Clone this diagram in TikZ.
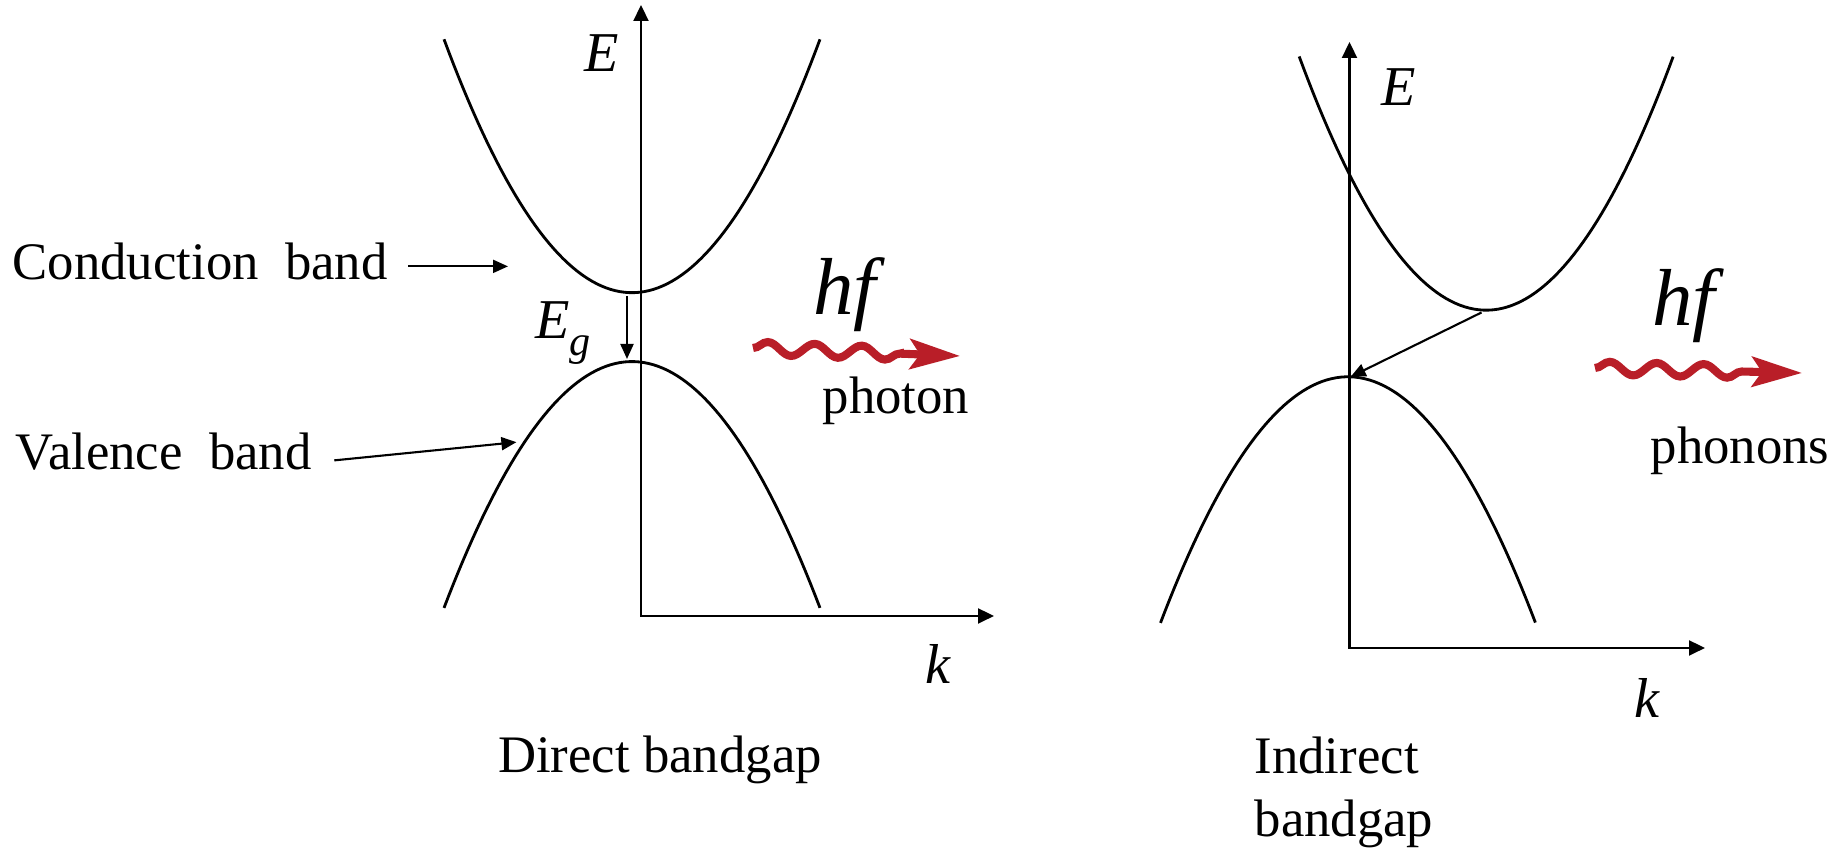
\documentclass[tikz,border=0pt]{standalone}
\usepackage{fontspec}
\setmainfont{Liberation Serif}
\usetikzlibrary{arrows.meta,decorations.pathmorphing}
\definecolor{wavered}{RGB}{185,30,40}
\begin{document}
\begin{tikzpicture}[
  band/.style={line width=0.8pt},
  axes/.style={line width=0.6pt, {Triangle[length=0.16cm,width=0.15cm]}-{Triangle[length=0.16cm,width=0.15cm]}},
  pointer/.style={line width=0.6pt, -{Triangle[length=0.15cm,width=0.13cm]}},
  wave/.style={wavered, line width=2.3pt, decorate,
    decoration={snake, segment length=0.47cm, amplitude=0.065cm, post length=0.55cm},
    -{Stealth[length=0.5cm,width=0.3cm,inset=0.1cm]}},
  txt/.style={inner sep=0pt, font=\fontsize{15}{18}\selectfont},
  sym/.style={inner sep=0pt, font=\fontsize{16}{19}\selectfont\itshape},
  hf/.style={inner sep=0pt, font=\fontsize{23}{26}\selectfont\itshape}]
\useasboundingbox (0,0) rectangle (18.32,8.5);
% Left panel: direct bandgap
\coordinate (top1) at (6.41,8.45);
\coordinate (org1) at (6.41,2.34);
\coordinate (end1) at (9.94,2.34);
\draw[axes] (top1) -- (org1) -- (end1);
\node[sym] (E1) at (6.02,7.97) {E};
\node[sym] (k1) at (9.38,1.86) {k};
\draw[band, domain=-1.88:1.88, samples=80] plot ({6.32+\x},{5.573+0.717*\x*\x});
\draw[band, domain=-1.88:1.88, samples=80] plot ({6.32+\x},{4.884-0.697*\x*\x});
\coordinate (cbmin1) at (6.27,5.54);
\coordinate (vbmax1) at (6.27,4.91);
\draw[pointer] (cbmin1) -- (vbmax1);
\node[sym] (Eg) at (5.63,5.17) {E\raisebox{-0.3em}{\fontsize{12}{12}\selectfont g}};
\node[txt, anchor=base west] (cbtxt) at (0.12,5.706) {Conduction\ \ band};
\coordinate (cbtip) at (5.08,5.836);
\draw[pointer] ([shift={(0.2,0.13)}]cbtxt.base east) -- (cbtip);
\node[txt, anchor=base west] (vbtxt) at (0.152,3.80) {Valence\ \ band};
\coordinate (vbtip) at (5.164,4.078);
\draw[pointer] ([shift={(0.22,0.096)}]vbtxt.base east) -- (vbtip);
\coordinate (w1a) at (7.53,5.02);
\coordinate (w1b) at (9.60,4.94);
\draw[wave] (w1a) -- (w1b);
\node[hf, anchor=base] (hf1) at (8.45,5.356) {hf};
\node[txt, anchor=base west] (ph1) at (8.22,4.36) {photon};
\node[txt, anchor=base] (cap1) at (6.60,0.773) {Direct bandgap};
% Right panel: indirect bandgap
\coordinate (top2) at (13.495,8.08);
\coordinate (org2) at (13.495,2.02);
\coordinate (end2) at (17.05,2.02);
\draw[axes] (top2) -- (org2) -- (end2);
\node[sym] (E2) at (13.99,7.63) {E};
\node[sym] (k2) at (16.47,1.52) {k};
\draw[band, domain=-1.87:1.87, samples=80] plot ({14.862+\x},{5.398+0.7255*\x*\x});
\draw[band, domain=-1.875:1.875, samples=80] plot ({13.48+\x},{4.732-0.700*\x*\x});
\coordinate (cbmin2) at (14.815,5.375);
\coordinate (vbmax2) at (13.507,4.732);
\draw[pointer] (cbmin2) -- (vbmax2);
\coordinate (w2a) at (15.95,4.82);
\coordinate (w2b) at (18.02,4.77);
\draw[wave] (w2a) -- (w2b);
\node[hf, anchor=base] (hf2) at (16.84,5.24) {hf};
\node[txt, anchor=base west] (ph2) at (16.50,3.86) {phonons};
\node[txt, align=left, anchor=base west] (cap2) at (12.54,0.133) {Indirect\\bandgap};
\end{tikzpicture}
\end{document}
